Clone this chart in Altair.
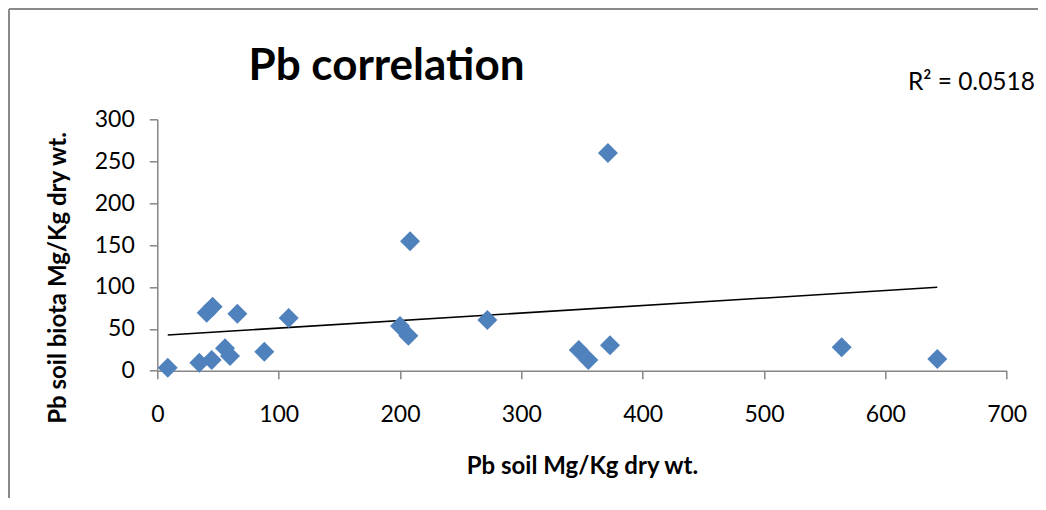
import altair as alt
import pandas as pd

# Values
soil_pb = [8.6, 34.6, 44.8, 40.7, 45.6, 66.0, 55.8, 59.9, 88.2, 108.3,
           200.0, 206.9, 272.0, 208.3, 371.4, 347.3, 355.2, 373.1, 564.0, 642.8]
biota_pb = [3.6, 9.5, 12.8, 69.2, 76.4, 68.0, 26.7, 17.5, 22.7, 62.9,
            53.3, 41.8, 60.5, 154.4, 259.8, 24.7, 12.8, 30.3, 27.9, 14.0]
trend_x = [8.6, 642.8]
trend_y = [42.6, 99.5]
x_ticks = [0, 100, 200, 300, 400, 500, 600, 700]
y_ticks = [0, 50, 100, 150, 200, 250, 300]
chart_title = "Pb correlation"
r2_label = "R\u00b2 = 0.0518"
x_title = "Pb soil Mg/Kg dry wt."
y_title = "Pb soil biota Mg/Kg dry wt."

FONT = "Lato"
W, H = 849.4, 251.4
PAD_L, PAD_T = 149.3, 111.3
TOTAL_W, TOTAL_H = 1030, 490

points = pd.DataFrame({"soil": soil_pb, "biota": biota_pb})
trend = pd.DataFrame({"soil": trend_x, "biota": trend_y})
one = pd.DataFrame({"k": [0]})

xscale = alt.Scale(domain=[0, 700], nice=False, zero=True)
yscale = alt.Scale(domain=[0, 300], nice=False, zero=True)

xaxis = alt.Axis(values=x_ticks, title=x_title, titleY=102.3,
                 titleBaseline="alphabetic", labelPadding=25, tickSize=8,
                 labelFlush=False)
yaxis = alt.Axis(values=y_ticks, title=y_title, titleX=-92.3, titleY=158.2,
                 titleBaseline="alphabetic", titleAngle=270, titleAlign="center",
                 labelPadding=15, tickSize=8, labelFlush=False)

scatter = alt.Chart(points).mark_point(
    shape="diamond", filled=True, size=400, color="#4F81BD", opacity=1
).encode(
    x=alt.X("soil:Q", scale=xscale, axis=xaxis),
    y=alt.Y("biota:Q", scale=yscale, axis=yaxis),
)

trend_line = alt.Chart(trend).mark_line(color="black", strokeWidth=1.6).encode(
    x=alt.X("soil:Q", scale=xscale),
    y=alt.Y("biota:Q", scale=yscale),
)

left_x = 9 - (PAD_L + 8)
top_y = 9 - (PAD_T + 8)
right_x = TOTAL_W - PAD_L
bottom_y = TOTAL_H - PAD_T

border_left = alt.Chart(one).mark_rule(color="#8a8a8a", strokeWidth=2).encode(
    x=alt.value(left_x), y=alt.value(top_y), y2=alt.value(bottom_y)
)
border_top = alt.Chart(one).mark_rule(color="#8a8a8a", strokeWidth=2).encode(
    x=alt.value(left_x), x2=alt.value(right_x), y=alt.value(top_y)
)

title_text = alt.Chart(one).mark_text(
    text=chart_title, font=FONT, fontSize=44, fontWeight="bold",
    align="center", baseline="alphabetic", color="black"
).encode(x=alt.value(386.5 - (PAD_L + 8)), y=alt.value(80 - (PAD_T + 8)))

r2_text = alt.Chart(one).mark_text(
    text=r2_label, font=FONT, fontSize=24.5, align="right",
    baseline="alphabetic", color="black"
).encode(x=alt.value(1035 - (PAD_L + 8)), y=alt.value(90 - (PAD_T + 8)))

chart = alt.layer(
    border_left, border_top, trend_line, scatter, title_text, r2_text
).properties(
    width=W, height=H,
    autosize=alt.AutoSizeParams(type="none"),
    padding={"left": PAD_L, "top": PAD_T,
             "right": TOTAL_W - PAD_L - W, "bottom": TOTAL_H - PAD_T - H},
).configure_view(stroke=None).configure_axis(
    grid=False, domainColor="#868686", tickColor="#868686", domainWidth=1.5,
    tickWidth=1.5, labelFont=FONT, labelFontSize=23, labelColor="black",
    titleFont=FONT, titleFontSize=24, titleFontWeight="bold", titleColor="black",
)

chart.save("out.html", embed_options={"renderer": "svg", "actions": False})
